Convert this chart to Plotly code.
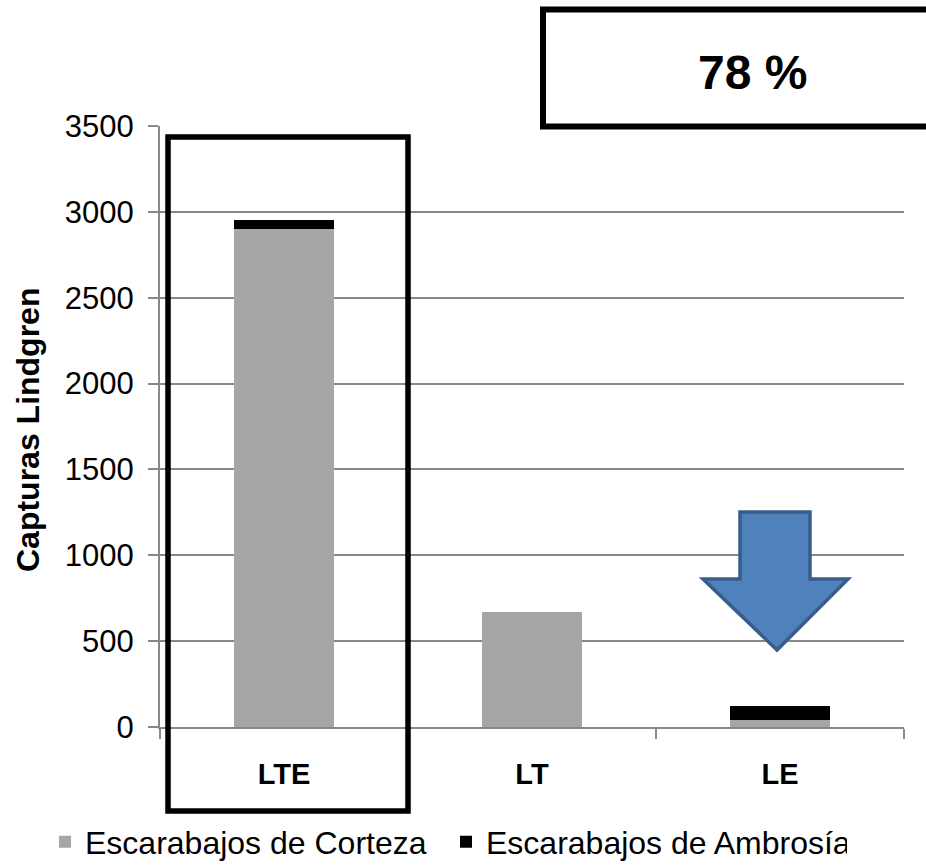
import plotly.graph_objects as go

categories = ["LTE", "LT", "LE"]
corteza = [2900, 670, 40]
ambrosia = [50, 0, 85]
series_names = ["Escarabajos de Corteza", "Escarabajos de Ambrosía"]
y_ticks = [0, 500, 1000, 1500, 2000, 2500, 3000, 3500]
box_text = "78 %"
y_title = "Capturas Lindgren"

W, H = 926, 865
L, R, T, B = 160, 22, 126, 138
pw, ph = W - L - R, H - T - B


def px(x):
    return (x - L) / pw


def py(y):
    return (H - B - y) / ph


FONT = "Liberation Sans, Arial, sans-serif"

fig = go.Figure()
fig.add_trace(go.Bar(x=categories, y=corteza, name=series_names[0],
                     marker=dict(color="#A6A6A6", line=dict(width=0))))
fig.add_trace(go.Bar(x=categories, y=ambrosia, name=series_names[1],
                     marker=dict(color="#000000", line=dict(width=0))))

grid = "#888888"
fig.update_layout(
    width=W, height=H,
    margin=dict(l=L, r=R, t=T, b=B, pad=0, autoexpand=False),
    barmode="stack", bargap=0.6,
    plot_bgcolor="white", paper_bgcolor="white",
    font=dict(family=FONT, color="#000000", size=30),
    showlegend=True,
    legend=dict(orientation="h", x=px(45), xanchor="left", y=py(842), yanchor="middle",
                font=dict(size=32, family=FONT), itemsizing="constant",
                traceorder="normal", itemwidth=30, entrywidth=356,
                bgcolor="rgba(0,0,0,0)"),
    xaxis=dict(showgrid=False, showline=True, linecolor=grid, linewidth=2,
               ticks="outside", tickson="boundaries", ticklen=10, tickwidth=2, tickcolor=grid,
               tickfont=dict(size=29, family=FONT, weight="bold"), ticklabelstandoff=20,
               zeroline=False),
    yaxis=dict(range=[0, 3500], tickvals=y_ticks, showgrid=True, gridcolor=grid, gridwidth=2,
               showline=True, linecolor=grid, linewidth=2, ticks="outside", ticklen=10,
               tickwidth=2, tickcolor=grid, tickfont=dict(size=31, family=FONT),
               ticklabelstandoff=8, zeroline=False),
)

fig.add_annotation(text=y_title, textangle=-90, xref="paper", yref="paper",
                   x=px(28), y=py(430), xanchor="center", yanchor="middle", showarrow=False,
                   font=dict(size=32, family=FONT, weight="bold"))

# Box around LTE
fig.add_shape(type="rect", xref="paper", yref="paper",
              x0=px(168), x1=px(408), y0=py(137), y1=py(811),
              line=dict(color="black", width=5.5), fillcolor="rgba(0,0,0,0)", layer="above")

# 78 % box
fig.add_shape(type="rect", xref="paper", yref="paper",
              x0=px(543), x1=px(935), y0=py(9.5), y1=py(126.5),
              line=dict(color="black", width=6), fillcolor="white", layer="above")
fig.add_annotation(text=box_text, xref="paper", yref="paper", x=px(752), y=py(72),
                   xanchor="center", yanchor="middle",
                   showarrow=False, font=dict(size=48, family=FONT, weight="bold"))

# Blue down arrow
pts = [(740, 512), (810, 512), (810, 579), (848, 579), (777, 650), (703, 579), (740, 579)]
path = "M " + " L ".join(f"{px(x):.5f},{py(y):.5f}" for x, y in pts) + " Z"
fig.add_shape(type="path", xref="paper", yref="paper", path=path,
              fillcolor="#4F81BD", line=dict(color="#385D8A", width=3.5), layer="above")

fig.write_html("out.html", config={"displayModeBar": False},
               post_script="document.body.style.margin='0';"
                           "document.documentElement.style.overflow='hidden';")
